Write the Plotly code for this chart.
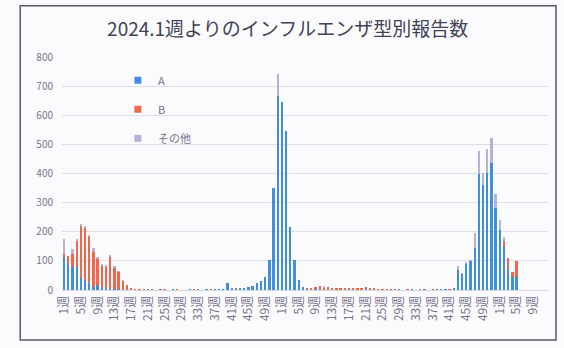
import plotly.graph_objects as go

# ---- data (weekly counts, 2024 w1 .. 2026 w12) ----
years = [2024] * 52 + [2025] * 52 + [2026] * 12
weeks = list(range(1, 53)) + list(range(1, 53)) + list(range(1, 13))
week_labels = [f"{w}週" for w in weeks]

type_a = [115, 92, 80, 80, 40, 35, 23, 11, 17, 8, 10, 5, 3, 2, 1, 1, 0, 0,
          1, 0, 1, 0, 0, 1, 0, 0, 1, 0, 0, 0, 1, 0, 2, 0, 1, 0, 1, 2, 1,
          25, 4, 5, 4, 6, 10, 15, 25, 32, 45, 103, 350, 667,
          645, 546, 218, 103, 34, 11, 4, 2, 2, 2, 0, 3, 0, 2, 0, 3, 2, 0, 3, 0, 2, 0, 2, 0,
          1, 0, 0, 1, 0, 0, 0, 1, 0, 0, 1, 0, 0, 1, 2, 3, 2, 4,
          69, 55, 90, 100, 145, 397, 362, 402,
          437, 282, 207, 149, 69, 46, 46, None, None, None, None, None, None, None]
type_b = [10, 26, 45, 90, 180, 178, 162, 120, 90, 75, 72, 110, 75, 60, 32, 16, 8, 3,
          1, 1, 0, 1, 0, 0, 1, 0, 0, 1, 0, 0, 0, 1, 0, 0, 0, 1, 0, 0, 0,
          0, 0, 1, 0, 0, 0, 0, 0, 0, 0, 0, 0, 0,
          0, 0, 0, 0, 0, 0, 2, 3, 8, 12, 10, 6, 4, 5, 7, 5, 4, 6, 3, 5, 8, 4, 6, 3,
          2, 1, 1, 0, 1, 0, 1, 0, 0, 1, 0, 0, 1, 0, 0, 0, 1, 0,
          0, 0, 0, 0, 0, 0, 0, 0,
          0, 0, 0, 20, 40, 17, 52, None, None, None, None, None, None, None]
type_other = [51, 0, 15, 6, 6, 5, 5, 13, 8, 3, 2, 3, 2, 1, 1, 0, 0, 0,
              0, 0, 0, 0, 0, 0, 0, 0, 0, 0, 0, 0, 0, 0, 0, 0, 0, 0, 0, 0, 0,
              0, 0, 0, 0, 0, 0, 0, 0, 0, 0, 0, 0, 74,
              0, 0, 0, 0, 0, 0, 0, 0, 0, 0, 2, 0, 0, 0, 0, 0, 0, 0, 0, 0, 0, 0, 0, 0,
              0, 0, 0, 0, 0, 0, 0, 0, 0, 0, 0, 0, 0, 0, 0, 0, 0, 0,
              14, 2, 4, 3, 50, 80, 40, 83,
              86, 46, 34, 13, 0, 0, 0, None, None, None, None, None, None, None]

series_names = ["A", "B", "その他"]
series_colors = ["#3f8fdc", "#f2674c", "#b4b2d8"]
y_ticks = [0, 100, 200, 300, 400, 500, 600, 700, 800]

x_idx = list(range(len(week_labels)))
tick_idx = x_idx[::4]
tick_text = week_labels[::4]

fig = go.Figure()
for name, vals, col in zip(series_names, [type_a, type_b, type_other], series_colors):
    fig.add_trace(go.Bar(x=x_idx, y=vals, name=name, marker_color=col,
                         marker_line_width=0, showlegend=False,
                         customdata=[[y, w] for y, w in zip(years, weeks)],
                         hovertemplate="%{customdata[0]}年%{customdata[1]}週<br>" + name + ": %{y}<extra></extra>"))
# legend proxies (small square swatches)
for i, (name, col) in enumerate(zip(series_names, series_colors)):
    fig.add_trace(go.Scatter(x=[None], y=[None], mode="markers", name=name,
                             legendgroup=f"g{i}",
                             marker=dict(symbol="square", size=7, color=col)))

font_family = "Noto Sans CJK JP, Noto Sans, sans-serif"
tick_color = "#76728e"

fig.update_layout(
    width=564, height=348,
    margin=dict(l=62, r=16, t=57, b=58),
    barmode="stack", bargap=0.45,
    paper_bgcolor="#fbfbfd", plot_bgcolor="#fbfbfd",
    font=dict(family=font_family, size=10, color=tick_color),
    title=dict(text="2024.1週よりのインフルエンザ型別報告数", x=0.51, xanchor="center",
               y=0.915, yanchor="middle",
               font=dict(family=font_family, size=19, color="#424256")),
    legend=dict(x=0.115, y=0.962, xanchor="left", yanchor="top",
                bgcolor="rgba(0,0,0,0)", tracegroupgap=10, itemwidth=30,
                font=dict(family=font_family, size=11, color=tick_color)),
    xaxis=dict(tickmode="array", tickvals=tick_idx, ticktext=tick_text,
               tickangle=-90, range=[-0.5, len(week_labels) - 0.5],
               showgrid=False, showline=True, linecolor="#d8d8e2", linewidth=1,
               ticks="", tickfont=dict(size=12, color=tick_color)),
    yaxis=dict(range=[0, 800], tickvals=y_ticks, showgrid=True,
               gridcolor="#dedee8", gridwidth=1, zeroline=False,
               ticks="", ticklabelstandoff=8,
               tickfont=dict(size=10, color=tick_color)),
    shapes=[dict(type="rect", xref="paper", yref="paper",
                 x0=-0.086, x1=1.0165, y0=-0.215, y1=1.22,
                 line=dict(color="#5a5a60", width=1.5), fillcolor="rgba(0,0,0,0)",
                 layer="below")],
)

fig.write_html("out.html")
